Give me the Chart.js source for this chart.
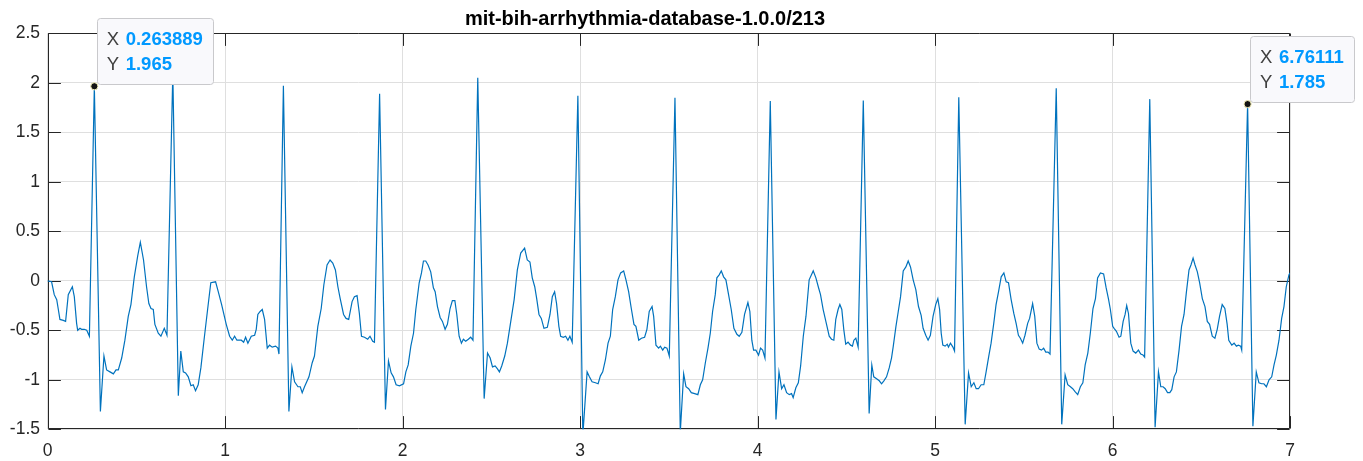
<!DOCTYPE html>
<html>
<head>
<meta charset="utf-8">
<script src="https://cdn.jsdelivr.net/npm/chart.js@4/dist/chart.umd.min.js"></script>
<style>
  html, body { margin: 0; padding: 0; background: #ffffff; }
  canvas { display: block; }
</style>
</head>
<body>
<canvas id="ecg" width="1363" height="461"></canvas>
<script>
// Record name shown as the figure title
const recordTitle = 'mit-bih-arrhythmia-database-1.0.0/213';

// Sample times (s) and amplitudes (mV) of the trace
const timeSec = [
  0.000, 0.023, 0.038, 0.052, 0.061, 0.070, 0.089, 0.102, 0.117, 0.140, 0.151, 0.164, 0.170, 0.183, 0.192, 0.207, 0.221, 0.236,
  0.263889, 0.298,
  0.318, 0.333, 0.352, 0.371, 0.386, 0.399, 0.418, 0.436, 0.455, 0.470, 0.489, 0.508, 0.523, 0.541, 0.558, 0.571, 0.583, 0.596, 0.605, 0.624, 0.639, 0.658, 0.673,
  0.706, 0.737,
  0.751, 0.765, 0.778, 0.793, 0.808, 0.821, 0.834, 0.849, 0.864, 0.883, 0.902, 0.920, 0.947, 0.962, 0.981, 1.007, 1.026, 1.041, 1.054, 1.067, 1.092, 1.105, 1.116, 1.129, 1.148, 1.167, 1.176, 1.185, 1.198, 1.210, 1.223, 1.238, 1.251, 1.266, 1.285, 1.298, 1.304,
  1.329, 1.360,
  1.377, 1.392, 1.411, 1.424, 1.435, 1.448, 1.473, 1.491, 1.504, 1.523, 1.542, 1.557, 1.575, 1.592, 1.607, 1.622, 1.636, 1.649, 1.668, 1.682, 1.697, 1.716, 1.729, 1.744, 1.757, 1.769, 1.786, 1.804, 1.817, 1.832, 1.842,
  1.871, 1.904,
  1.921, 1.936, 1.949, 1.964, 1.983, 2.006, 2.019, 2.032, 2.047, 2.062, 2.075, 2.094, 2.107, 2.118, 2.131, 2.144, 2.159, 2.174, 2.184, 2.197, 2.212, 2.225, 2.240, 2.253, 2.268, 2.281, 2.295, 2.306, 2.319, 2.332, 2.343, 2.356, 2.371, 2.384, 2.397,
  2.424, 2.460,
  2.479, 2.494, 2.507, 2.522, 2.535, 2.546, 2.559, 2.576, 2.591, 2.610, 2.629, 2.647, 2.666, 2.688, 2.703, 2.718, 2.731, 2.745, 2.756, 2.769, 2.782, 2.797, 2.816, 2.831, 2.844, 2.857, 2.868, 2.881, 2.891, 2.906, 2.919, 2.932, 2.943, 2.956,
  2.988, 3.016,
  3.040, 3.053, 3.068, 3.087, 3.102, 3.115, 3.128, 3.143, 3.158, 3.171, 3.184, 3.199, 3.214, 3.229, 3.246, 3.259, 3.274, 3.289, 3.304, 3.315, 3.331, 3.346, 3.364, 3.377, 3.390, 3.406, 3.415, 3.428, 3.443, 3.453, 3.466, 3.477, 3.490, 3.503,
  3.535, 3.565,
  3.584, 3.597, 3.612, 3.627, 3.646, 3.664, 3.678, 3.691, 3.706, 3.721, 3.734, 3.747, 3.762, 3.771, 3.784, 3.796, 3.809, 3.822, 3.837, 3.852, 3.867, 3.884, 3.897, 3.912, 3.927, 3.946, 3.957, 3.968, 3.978, 3.991, 4.006, 4.017, 4.029, 4.042,
  4.072, 4.104,
  4.121, 4.136, 4.149, 4.164, 4.179, 4.192, 4.201, 4.216, 4.230, 4.243, 4.258, 4.273, 4.291, 4.304, 4.314, 4.329, 4.344, 4.355, 4.370, 4.389, 4.404, 4.417, 4.430, 4.441, 4.454, 4.464, 4.475, 4.486, 4.497, 4.510, 4.524, 4.535, 4.543, 4.554, 4.567,
  4.596, 4.629,
  4.644, 4.655, 4.671, 4.686, 4.699, 4.712, 4.727, 4.742, 4.755, 4.765, 4.780, 4.793, 4.806, 4.821, 4.836, 4.849, 4.862, 4.877, 4.892, 4.907, 4.922, 4.933, 4.948, 4.961, 4.974, 4.989, 5.004, 5.016, 5.026, 5.035, 5.044, 5.057, 5.069, 5.076, 5.087, 5.101, 5.110,
  5.134, 5.170,
  5.189, 5.204, 5.219, 5.232, 5.245, 5.260, 5.275, 5.288, 5.303, 5.316, 5.331, 5.344, 5.358, 5.373, 5.388, 5.401, 5.414, 5.429, 5.444, 5.457, 5.470, 5.481, 5.494, 5.507, 5.522, 5.533, 5.550, 5.562, 5.574, 5.587, 5.600, 5.612, 5.624, 5.637, 5.648,
  5.683, 5.714,
  5.733, 5.748, 5.763, 5.776, 5.789, 5.804, 5.819, 5.833, 5.846, 5.861, 5.875, 5.890, 5.904, 5.916, 5.932, 5.950, 5.964, 5.977, 5.988, 6.001, 6.009, 6.022, 6.037, 6.047, 6.060, 6.071, 6.080, 6.090, 6.103, 6.116, 6.131, 6.146, 6.159, 6.172, 6.181,
  6.210, 6.240,
  6.259, 6.272, 6.285, 6.297, 6.310, 6.323, 6.334, 6.347, 6.360, 6.375, 6.389, 6.403, 6.416, 6.431, 6.442, 6.454, 6.465, 6.478, 6.491, 6.506, 6.521, 6.534, 6.547, 6.562, 6.577, 6.590, 6.603, 6.618, 6.633, 6.646, 6.655, 6.672, 6.685, 6.698, 6.709, 6.722, 6.728,
  6.76111, 6.791,
  6.810, 6.825, 6.840, 6.853, 6.867, 6.882, 6.897, 6.910, 6.923, 6.938, 6.953, 6.966, 6.979, 6.994, 7.000
];

const ecgMv = [
  0.00, -0.01, -0.14, -0.19, -0.29, -0.39, -0.40, -0.41, -0.14, -0.06, -0.16, -0.43, -0.50, -0.48, -0.49, -0.49, -0.50, -0.56,
  1.965, -1.32,
  -0.76, -0.90, -0.92, -0.94, -0.90, -0.90, -0.78, -0.60, -0.36, -0.24, 0.04, 0.25, 0.39, 0.21, -0.06, -0.23, -0.28, -0.29, -0.44, -0.53, -0.56, -0.48, -0.55,
  2.10, -1.16,
  -0.71, -0.92, -0.93, -0.97, -1.06, -1.05, -1.11, -1.05, -0.88, -0.58, -0.29, -0.02, -0.01, -0.11, -0.24, -0.44, -0.56, -0.60, -0.56, -0.60, -0.60, -0.62, -0.57, -0.63, -0.56, -0.55, -0.49, -0.34, -0.31, -0.29, -0.39, -0.68, -0.65, -0.67, -0.66, -0.68, -0.74,
  1.97, -1.32,
  -0.87, -1.02, -1.07, -1.07, -1.13, -1.07, -0.97, -0.83, -0.76, -0.46, -0.28, -0.04, 0.16, 0.21, 0.18, 0.11, -0.06, -0.18, -0.34, -0.38, -0.39, -0.21, -0.16, -0.15, -0.33, -0.56, -0.57, -0.59, -0.56, -0.61, -0.62,
  1.89, -1.30,
  -0.81, -0.93, -0.97, -1.05, -1.06, -1.04, -0.92, -0.85, -0.66, -0.53, -0.29, -0.02, 0.08, 0.20, 0.20, 0.16, 0.09, -0.07, -0.11, -0.26, -0.37, -0.41, -0.49, -0.44, -0.28, -0.20, -0.20, -0.34, -0.56, -0.63, -0.59, -0.61, -0.59, -0.57, -0.60,
  2.05, -1.19,
  -0.73, -0.78, -0.87, -0.86, -0.89, -0.92, -0.86, -0.76, -0.63, -0.41, -0.19, 0.11, 0.28, 0.33, 0.21, 0.19, 0.03, -0.06, -0.18, -0.34, -0.38, -0.48, -0.47, -0.34, -0.16, -0.11, -0.23, -0.46, -0.56, -0.57, -0.56, -0.60, -0.56, -0.62,
  1.87, -1.56,
  -0.92, -0.97, -1.02, -1.03, -1.04, -0.96, -0.92, -0.80, -0.63, -0.56, -0.29, -0.16, 0.01, 0.08, 0.10, 0.01, -0.11, -0.28, -0.44, -0.46, -0.60, -0.58, -0.57, -0.49, -0.31, -0.26, -0.36, -0.65, -0.68, -0.66, -0.70, -0.67, -0.68, -0.76,
  1.85, -1.53,
  -0.94, -1.07, -1.09, -1.13, -1.14, -1.15, -1.05, -1.00, -0.83, -0.68, -0.53, -0.31, -0.14, 0.03, 0.06, 0.10, 0.04, 0.01, -0.14, -0.29, -0.48, -0.54, -0.56, -0.52, -0.34, -0.22, -0.31, -0.60, -0.70, -0.70, -0.75, -0.68, -0.70, -0.78,
  1.815, -1.40,
  -0.92, -1.09, -1.05, -1.13, -1.15, -1.14, -1.18, -1.08, -1.03, -0.86, -0.56, -0.36, 0.01, 0.06, 0.10, 0.03, -0.07, -0.14, -0.29, -0.44, -0.56, -0.59, -0.60, -0.39, -0.29, -0.24, -0.29, -0.49, -0.64, -0.62, -0.65, -0.66, -0.60, -0.58, -0.67,
  1.82, -1.34,
  -0.85, -0.97, -0.99, -1.01, -1.04, -1.01, -0.97, -0.88, -0.78, -0.66, -0.46, -0.31, -0.16, 0.10, 0.14, 0.20, 0.14, 0.01, -0.09, -0.26, -0.35, -0.48, -0.55, -0.60, -0.55, -0.36, -0.24, -0.18, -0.29, -0.53, -0.65, -0.66, -0.64, -0.67, -0.63, -0.67, -0.71,
  1.855, -1.45,
  -0.93, -1.07, -1.03, -1.09, -1.09, -1.05, -1.05, -0.92, -0.76, -0.63, -0.43, -0.24, -0.11, 0.04, 0.08, -0.01, -0.02, -0.19, -0.33, -0.43, -0.55, -0.58, -0.63, -0.55, -0.43, -0.38, -0.23, -0.36, -0.63, -0.69, -0.70, -0.68, -0.72, -0.72, -0.74,
  1.946, -1.45,
  -0.95, -1.05, -1.07, -1.09, -1.12, -1.15, -1.07, -1.03, -0.85, -0.73, -0.53, -0.28, -0.18, 0.03, 0.08, 0.07, -0.07, -0.18, -0.29, -0.46, -0.48, -0.51, -0.57, -0.56, -0.41, -0.34, -0.25, -0.33, -0.63, -0.71, -0.73, -0.70, -0.74, -0.75, -0.77,
  1.835, -1.48,
  -0.92, -1.07, -1.07, -1.09, -1.13, -1.13, -1.10, -0.97, -0.92, -0.70, -0.46, -0.34, -0.12, 0.11, 0.16, 0.23, 0.16, 0.09, -0.02, -0.18, -0.26, -0.41, -0.44, -0.56, -0.58, -0.49, -0.36, -0.24, -0.28, -0.44, -0.60, -0.65, -0.63, -0.66, -0.65, -0.66, -0.70,
  1.785, -1.47,
  -0.92, -1.03, -1.04, -1.04, -1.07, -1.00, -0.97, -0.85, -0.75, -0.60, -0.38, -0.26, -0.06, 0.06, 0.08
];

// Axis ticks
const xTickValues = [0, 1, 2, 3, 4, 5, 6, 7];
const yTickValues = [-1.5, -1, -0.5, 0, 0.5, 1, 1.5, 2, 2.5];

// Data tips pinned on two R peaks
const tipTimes = [0.263889, 6.76111];
const tipValues = [1.965, 1.785];

const FONT = "'Liberation Sans', Arial, Helvetica, sans-serif";
const AXIS_COLOR = '#262626';
const TICK_LEN = 12.4;

// Box outline with inward-pointing tick marks on all four sides
const axesFrame = {
  id: 'axesFrame',
  beforeDatasetsDraw(chart) {
    const { ctx, chartArea: a, scales: { x, y } } = chart;
    const L = Math.round(a.left) + 0.5, R = Math.round(a.right) - 0.5;
    const T = Math.round(a.top) + 0.5, B = Math.round(a.bottom) - 0.5;
    ctx.save();
    ctx.strokeStyle = AXIS_COLOR;
    ctx.lineWidth = 1;
    ctx.beginPath();
    ctx.rect(L, T, R - L, B - T);
    xTickValues.forEach(v => {
      const px = Math.round(x.getPixelForValue(v)) + 0.5;
      ctx.moveTo(px, B); ctx.lineTo(px, B - TICK_LEN);
      ctx.moveTo(px, T); ctx.lineTo(px, T + TICK_LEN);
    });
    yTickValues.forEach(v => {
      const py = Math.round(y.getPixelForValue(v)) + 0.5;
      ctx.moveTo(L, py); ctx.lineTo(L + TICK_LEN, py);
      ctx.moveTo(R, py); ctx.lineTo(R - TICK_LEN, py);
    });
    ctx.stroke();
    ctx.restore();
  }
};

// Data tip boxes: marker on the sample plus an X/Y readout
const dataTips = {
  id: 'dataTips',
  afterDraw(chart) {
    const { ctx, scales: { x, y } } = chart;
    const size = 18.5;
    const labelFont = `normal ${size}px ${FONT}`;
    const valueFont = `bold ${size}px ${FONT}`;
    tipTimes.forEach((t, i) => {
      const v = tipValues[i];
      const px = x.getPixelForValue(t);
      const py = y.getPixelForValue(v);
      const rows = [['X', String(t)], ['Y', String(v)]];
      ctx.save();
      ctx.font = labelFont;
      const labelW = Math.max(...rows.map(r => ctx.measureText(r[0]).width));
      ctx.font = valueFont;
      const valueW = Math.max(...rows.map(r => ctx.measureText(r[1]).width));
      const gap = 6.5, padX = 10;
      const w = padX + labelW + gap + valueW + padX;
      const h = 66;
      const bx = px + 2.5, by = py - 2 - h;
      // box
      ctx.beginPath();
      ctx.roundRect(Math.round(bx) + 0.5, Math.round(by) + 0.5, Math.round(w), Math.round(h), 3);
      ctx.fillStyle = '#f9f9fc';
      ctx.fill();
      ctx.strokeStyle = '#c9c9cc';
      ctx.lineWidth = 1;
      ctx.stroke();
      // text rows
      ctx.textBaseline = 'middle';
      ctx.textAlign = 'left';
      const rowY = [by + 22, by + 46.5];
      rows.forEach((r, k) => {
        ctx.font = labelFont;
        ctx.fillStyle = '#404040';
        ctx.fillText(r[0], bx + padX, rowY[k]);
        ctx.font = valueFont;
        ctx.fillStyle = '#0099ff';
        ctx.fillText(r[1], bx + padX + labelW + gap, rowY[k]);
      });
      // marker
      ctx.beginPath();
      ctx.arc(px, py, 3.6, 0, Math.PI * 2);
      ctx.fillStyle = '#141414';
      ctx.fill();
      ctx.strokeStyle = '#f4f0b8';
      ctx.lineWidth = 1;
      ctx.stroke();
      ctx.restore();
    });
  }
};

const points = timeSec.map((t, i) => ({ x: t, y: ecgMv[i] }));

new Chart(document.getElementById('ecg'), {
  type: 'line',
  data: {
    datasets: [{
      data: points,
      borderColor: '#0072BD',
      borderWidth: 1.2,
      pointRadius: 0,
      tension: 0,
      fill: false
    }]
  },
  options: {
    responsive: false,
    devicePixelRatio: 1,
    animation: false,
    events: [],
    layout: { padding: { left: 0, right: 73, top: 0, bottom: 0 } },
    plugins: {
      legend: { display: false },
      tooltip: { enabled: false },
      title: {
        display: true,
        text: recordTitle,
        color: '#000000',
        font: { family: FONT, size: 20, weight: 'bold', lineHeight: 1.2 },
        padding: { top: 7.5, bottom: 1.8 }
      }
    },
    scales: {
      x: {
        type: 'linear',
        min: 0,
        max: 7,
        afterBuildTicks: s => { s.ticks = xTickValues.map(v => ({ value: v })); },
        afterFit: s => { s.height = 31.7; },
        ticks: {
          color: AXIS_COLOR,
          font: { family: FONT, size: 17.5 },
          padding: 11,
          maxRotation: 0,
          autoSkip: false,
          callback: v => String(v)
        },
        grid: { color: '#dfdfdf', lineWidth: 1, drawTicks: false },
        border: { display: false }
      },
      y: {
        type: 'linear',
        min: -1.5,
        max: 2.5,
        afterBuildTicks: s => { s.ticks = yTickValues.map(v => ({ value: v })); },
        afterFit: s => { s.width = 47.5; },
        ticks: {
          color: AXIS_COLOR,
          font: { family: FONT, size: 17.5 },
          padding: 7.5,
          autoSkip: false,
          callback: v => String(v)
        },
        grid: { color: '#dfdfdf', lineWidth: 1, drawTicks: false },
        border: { display: false }
      }
    }
  },
  plugins: [axesFrame, dataTips]
});
</script>
</body>
</html>
